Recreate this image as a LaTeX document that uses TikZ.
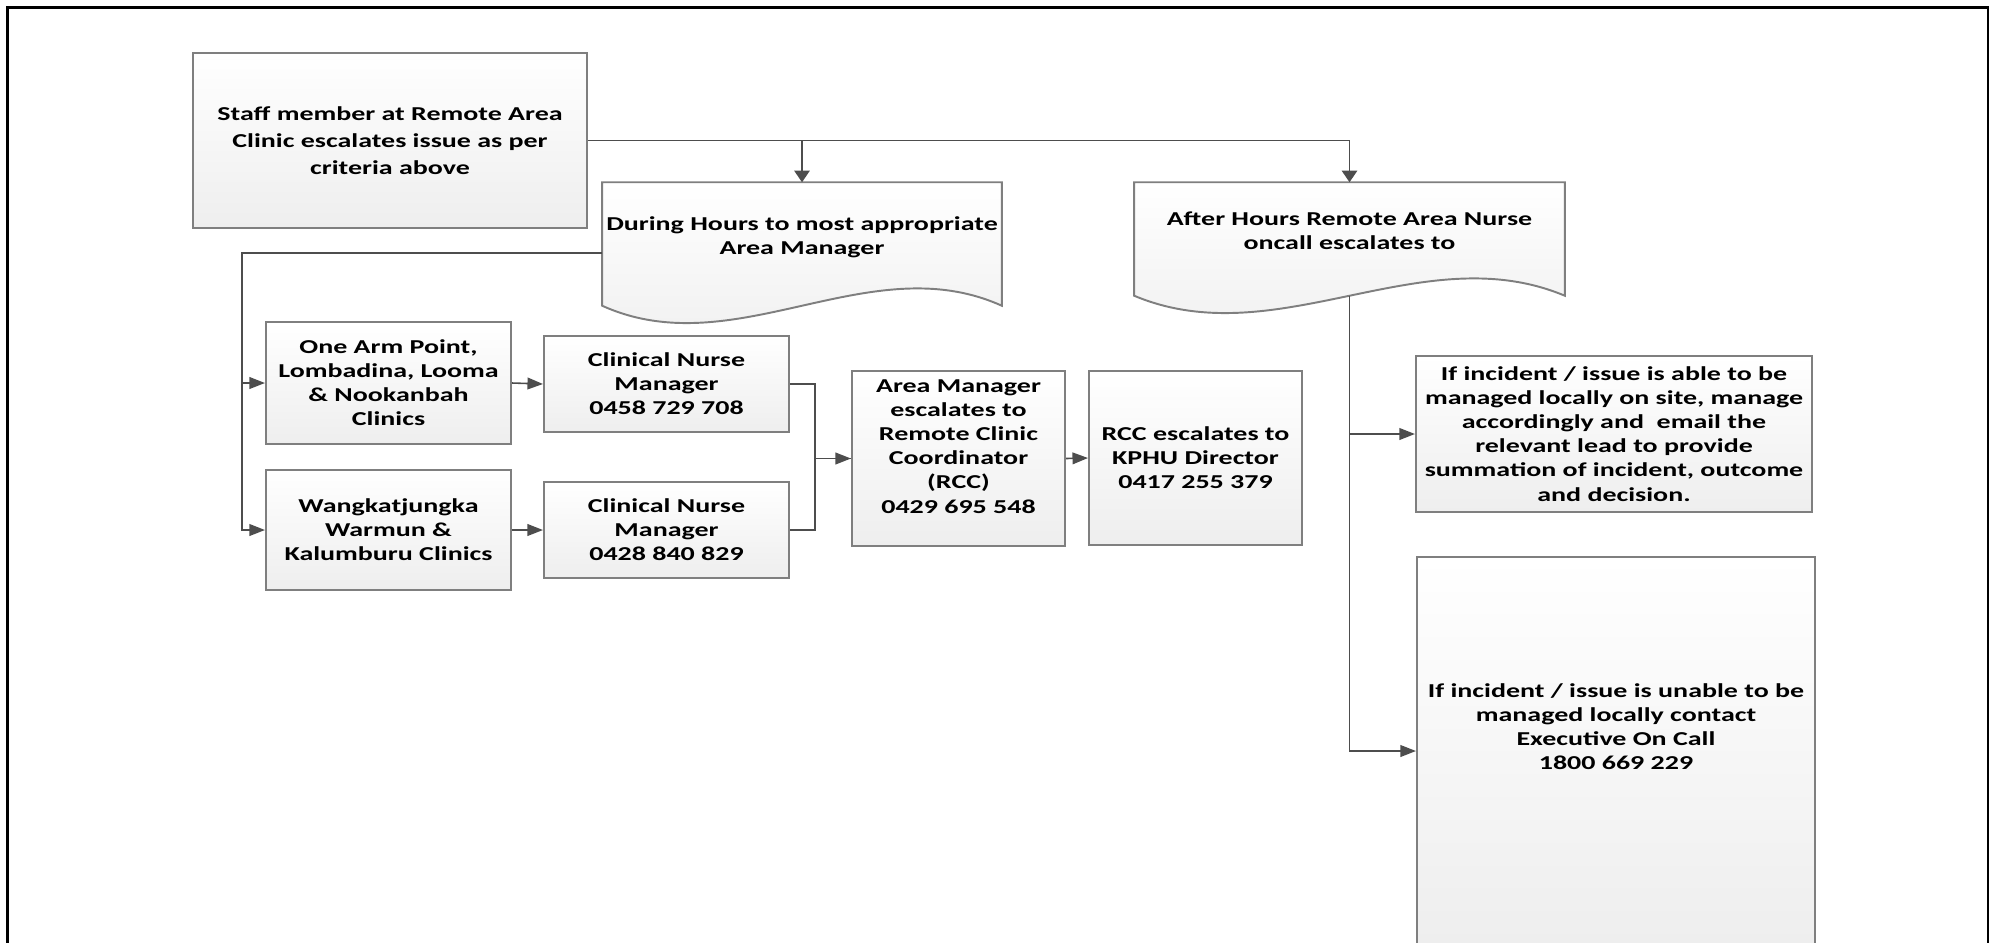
\documentclass[tikz,border=0pt]{standalone}
\usepackage{fontspec}
\setmainfont{Carlito}[FakeStretch=1.42]
\usepackage{tikz}
\usetikzlibrary{arrows.meta}
\pgfdeclarelayer{background}
\pgfsetlayers{background,main}

\definecolor{boxgray}{HTML}{7F7F7F}
\definecolor{linegray}{HTML}{4D4D4D}
\definecolor{fillgray}{HTML}{EEEEEE}

\newcommand{\boxfont}{\fontsize{5.6}{6.85}\selectfont\bfseries}

\tikzset{
  box/.style={draw=boxgray, line width=0.55pt, top color=white, bottom color=fillgray,
    align=center, inner sep=0pt, font=\boxfont},
  doctext/.style={align=center, inner sep=0pt, font=\boxfont, text depth=0.17cm},
  docline/.style={draw=boxgray, line width=0.55pt, top color=white, bottom color=fillgray},
  conn/.style={draw=linegray, line width=0.45pt},
  harrow/.style={conn, -{Triangle[length=0.155cm, width=0.117cm]}},
  varrow/.style={conn, -{Triangle[length=0.117cm, width=0.155cm]}},
}

\begin{document}
\begin{tikzpicture}[x=0.01cm, y=-0.01cm]

  % Page frame (open at the bottom)
  \useasboundingbox (0,0) rectangle (1995,942);
  \draw[line width=0.6pt] (7.5,960) -- (7.5,7.5) -- (1988,7.5) -- (1988,960);

  % Start and the two routes
  \node[box, minimum width=3.94cm, minimum height=1.75cm,
    font=\fontsize{5.6}{7.7}\selectfont\bfseries] (staff) at (390,140.5)
    {Staff member at Remote Area\\Clinic escalates issue as per\\criteria above};
  \node[doctext, minimum width=3.98cm, minimum height=1.22cm] (during) at (802,244)
    {During Hours to most appropriate\\Area Manager};
  \node[doctext, minimum width=4.29cm, minimum height=1.12cm] (after) at (1349.5,239)
    {After Hours Remote Area Nurse\\oncall escalates to};

  % Document shapes behind the text
  \begin{pgfonlayer}{background}
    \draw[docline] (during.south west) -- (during.north west) -- (during.north east) -- (during.south east)
      .. controls +(-133,-60) and +(133,60) .. (during.south west) -- cycle;
    \draw[docline] (after.south west) -- (after.north west) -- (after.north east) -- (after.south east)
      .. controls +(-143,-60) and +(143,60) .. (after.south west) -- cycle;
  \end{pgfonlayer}

  % During hours
  \node[box, minimum width=2.45cm, minimum height=1.22cm] (clinicA) at (388.5,383)
    {One Arm Point,\\Lombadina, Looma\\\& Nookanbah\\Clinics};
  \node[box, minimum width=2.45cm, minimum height=1.20cm] (clinicB) at (388.5,530)
    {Wangkatjungka\\Warmun \&\\Kalumburu Clinics};
  \node[box, minimum width=2.45cm, minimum height=0.96cm] (cnmA) at (666.5,384)
    {Clinical Nurse\\Manager\\0458 729 708};
  \node[box, minimum width=2.45cm, minimum height=0.96cm] (cnmB) at (666.5,530)
    {Clinical Nurse\\Manager\\0428 840 829};
  \node[box, minimum width=2.13cm, minimum height=1.75cm] (areamgr) at (958.5,458.5)
    {Area Manager\\escalates to\\Remote Clinic\\Coordinator\\(RCC)\\0429 695 548\\~};
  \node[box, minimum width=2.13cm, minimum height=1.73cm] (rcc) at (1195.5,458)
    {RCC escalates to\\KPHU Director\\0417 255 379};

  % After hours
  \node[box, minimum width=3.96cm, minimum height=1.56cm] (local) at (1614,434)
    {If incident / issue is able to be\\managed locally on site, manage\\accordingly and~ email the\\relevant lead to provide\\summation of incident, outcome\\and decision.};
  \node[box, minimum width=3.98cm, minimum height=3.88cm] (exec) at (1616,751)
    {If incident / issue is unable to be\\managed locally contact\\Executive On Call\\1800 669 229\\~\\~};

  % Connectors
  \draw[varrow] (staff.east) -| (during.north);
  \draw[varrow] (staff.east) -| (after.north);

  \draw[harrow] ([yshift=-0.09cm]during.west) -| ([xshift=-0.23cm]clinicA.west) -- (clinicA.west);
  \draw[harrow] ([xshift=-0.23cm]clinicA.west) |- (clinicB.west);
  \draw[harrow] (clinicA.east) -- (cnmA.west);
  \draw[harrow] (clinicB.east) -- (cnmB.west);

  \draw[harrow] (cnmA.east) -- ++(25,0) |- (areamgr.west);
  \draw[conn] (cnmB.east) -- ++(25,0) |- (areamgr.west);
  \draw[harrow] (areamgr.east) -- (rcc.west);

  \draw[harrow] (after.south) |- (local.west);
  \draw[harrow] (after.south) |- (exec.west);

\end{tikzpicture}
\end{document}
